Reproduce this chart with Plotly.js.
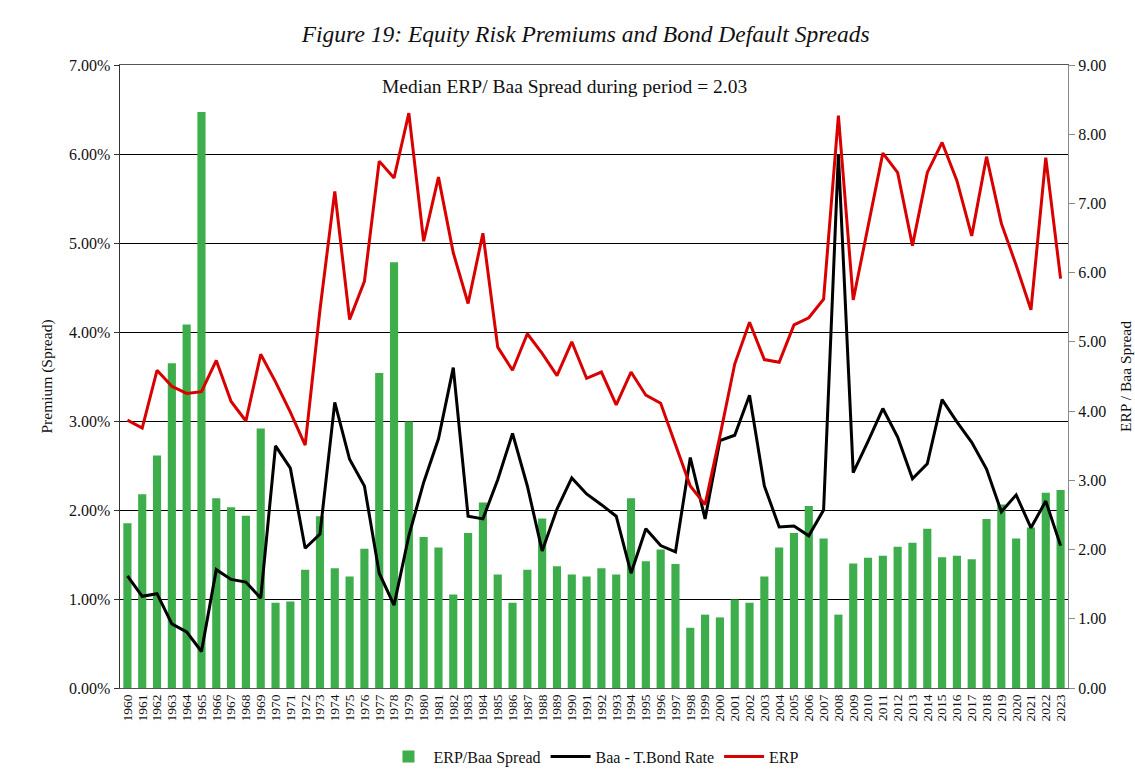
<!DOCTYPE html>
<html>
<head>
<meta charset="utf-8">
<script src="https://cdn.plot.ly/plotly-3.0.1.min.js"></script>
<style>html,body{margin:0;padding:0;background:#fff;}#chart{width:1135px;height:774px;}</style>
</head>
<body>
<div id="chart"></div>
<script>
const years = ["1960","1961","1962","1963","1964","1965","1966","1967","1968","1969",
"1970","1971","1972","1973","1974","1975","1976","1977","1978","1979",
"1980","1981","1982","1983","1984","1985","1986","1987","1988","1989",
"1990","1991","1992","1993","1994","1995","1996","1997","1998","1999",
"2000","2001","2002","2003","2004","2005","2006","2007","2008","2009",
"2010","2011","2012","2013","2014","2015","2016","2017","2018","2019",
"2020","2021","2022","2023"];

// ERP / Baa spread ratio (right axis)
const ratio = [2.38,2.80,3.36,4.69,5.25,8.32,2.74,2.61,2.49,3.75,
1.23,1.25,1.71,2.48,1.73,1.61,2.01,4.55,6.15,3.85,
2.18,2.03,1.35,2.24,2.68,1.64,1.23,1.71,2.45,1.76,
1.64,1.61,1.73,1.64,2.74,1.83,2.00,1.79,0.87,1.06,
1.02,1.28,1.23,1.61,2.03,2.24,2.63,2.16,1.06,1.80,
1.88,1.91,2.04,2.10,2.30,1.89,1.91,1.86,2.44,2.65,
2.16,2.32,2.82,2.86];

// Baa - T.Bond rate (%)
const baaSpread = [1.26,1.03,1.06,0.72,0.63,0.41,1.33,1.22,1.19,1.01,
2.72,2.47,1.57,1.73,3.21,2.57,2.27,1.29,0.93,1.71,
2.31,2.80,3.60,1.93,1.90,2.34,2.86,2.27,1.54,2.01,
2.36,2.18,2.06,1.93,1.29,1.79,1.60,1.53,2.59,1.90,
2.78,2.84,3.29,2.27,1.81,1.82,1.71,2.00,6.00,2.42,
2.77,3.14,2.82,2.35,2.52,3.24,2.99,2.76,2.46,1.98,
2.17,1.80,2.10,1.60];

// Implied ERP (%)
const erp = [3.01,2.92,3.57,3.39,3.31,3.33,3.68,3.22,3.00,3.75,
3.44,3.10,2.73,4.25,5.58,4.14,4.57,5.92,5.73,6.46,
5.02,5.74,4.89,4.32,5.11,3.83,3.57,3.98,3.76,3.51,
3.89,3.48,3.55,3.18,3.55,3.29,3.20,2.73,2.27,2.06,
2.83,3.64,4.11,3.69,3.66,4.08,4.16,4.37,6.43,4.36,
5.19,6.01,5.79,4.97,5.79,6.13,5.70,5.08,5.97,5.22,
4.75,4.25,5.96,4.60];

const seriesNames = ["ERP/Baa Spread","Baa - T.Bond Rate","ERP"];
const titleText = "Figure 19: Equity Risk Premiums and Bond Default Spreads";
const noteText = "Median ERP/ Baa Spread during period = 2.03";

const serif = "Liberation Serif, Times New Roman, serif";

const traces = [
  {type:"bar", x:years, y:ratio, name:seriesNames[0], yaxis:"y",
   marker:{color:"#3dae4b"}},
  {type:"scatter", mode:"lines", x:years, y:baaSpread, name:seriesNames[1], yaxis:"y2",
   line:{color:"#000000", width:3}},
  {type:"scatter", mode:"lines", x:years, y:erp, name:seriesNames[2], yaxis:"y2",
   line:{color:"#d90000", width:3}}
];

const layout = {
  width:1135, height:774,
  paper_bgcolor:"#fff", plot_bgcolor:"#fff",
  margin:{l:120, r:67, t:65, b:86, pad:0, autoexpand:false},
  font:{family:serif, color:"#111", size:15},
  bargap:0.45,
  showlegend:true,
  title:{text:titleText, x:0.516, xanchor:"center", y:0.957, yanchor:"middle",
         font:{family:serif, size:23.5, style:"italic", color:"#111"}},
  xaxis:{type:"category", tickmode:"linear", dtick:1, tickangle:-90,
         tickfont:{family:serif, size:13.5, color:"#111"},
         showline:true, linecolor:"#555", linewidth:1, mirror:true, ticks:"",
         showgrid:false, automargin:false, fixedrange:true},
  yaxis:{side:"right", range:[0,9], dtick:1, tickformat:".2f",
         showgrid:false, zeroline:false, showline:true, linecolor:"#8a8a8a", linewidth:1,
         ticks:"outside", ticklen:6, tickcolor:"#8a8a8a",
         tickfont:{family:serif, size:16, color:"#111"},
         title:{text:"ERP / Baa Spread", font:{family:serif, size:15.5, color:"#111"}, standoff:14},
         automargin:false},
  yaxis2:{overlaying:"y", side:"left", range:[0,7], dtick:1, tickformat:".2f", ticksuffix:"%",
         showgrid:true, gridcolor:"#000", gridwidth:1, zeroline:false,
         showline:true, linecolor:"#333", linewidth:1.5,
         ticks:"outside", ticklen:5, tickcolor:"#333",
         tickfont:{family:serif, size:16, color:"#111"},
         title:{text:"Premium (Spread)", font:{family:serif, size:15.5, color:"#111"}, standoff:12},
         automargin:false},
  legend:{orientation:"h", x:0.5, xanchor:"center", y:-0.11, yanchor:"middle",
          font:{family:serif, size:16, color:"#111"}, traceorder:"normal", itemwidth:40},
  annotations:[{text:noteText, xref:"paper", yref:"paper", x:0.469, y:0.966,
                xanchor:"center", yanchor:"middle", showarrow:false,
                font:{family:serif, size:19.5, color:"#111"}}]
};

Plotly.newPlot("chart", traces, layout, {displayModeBar:false, staticPlot:true});
</script>
</body>
</html>
